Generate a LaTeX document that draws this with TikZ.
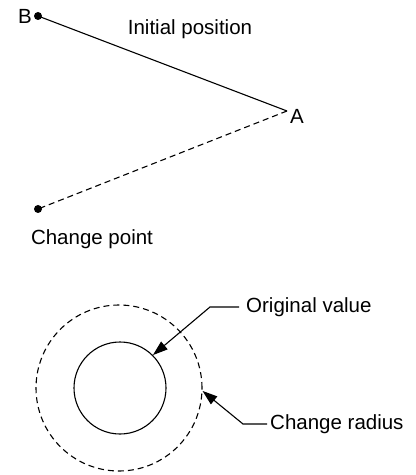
\documentclass[tikz,border=0pt]{standalone}
\usepackage{fontspec}
\setmainfont{Liberation Sans}
\usetikzlibrary{arrows.meta}
\begin{document}
\begin{tikzpicture}[x=1bp,y=-1bp,
  lbl/.style={font=\fontsize{20.5bp}{24bp}\selectfont, inner sep=0pt},
  dotpt/.style={circle, fill=black, inner sep=0pt, minimum size=8bp},
  ln/.style={line width=1.1bp},
  dsh/.style={line width=1.1bp, dash pattern=on 6bp off 4bp},
  arr/.style={line width=1.1bp, -{Triangle[length=15bp,width=10bp]}}]
\useasboundingbox (0,0) rectangle (415,475);
% top part
\node[dotpt] (B) at (38,16) {};
\coordinate (A) at (287,111);
\node[dotpt] (C) at (38,209) {};
\node[lbl, anchor=east] (Bl) at (32,16) {B};
\node[lbl, anchor=west] (Al) at (290,116) {A};
\node[lbl] (ip) at (190,29) {Initial position};
\node[lbl] (cp) at (92,239) {Change point};
\draw[ln] (B.center) -- (A);
\draw[dsh] (A) -- (C.center);
% circles
\node[circle, draw, dsh, minimum size=166bp, inner sep=0pt] (outer) at (119,388) {};
\node[circle, draw, ln, minimum size=92bp, inner sep=0pt] (inner) at (120,388) {};
\node[lbl, anchor=west] (ov) at (246,307) {Original value};
\node[lbl, anchor=west] (cr) at (270,424) {Change radius};
\coordinate (ovk) at (210,307);
\coordinate (crk) at (243,424);
\draw[arr] ([xshift=-7bp]ov.west) -- (ovk) -- (inner.45);
\draw[arr] ([xshift=-3bp]cr.west) -- (crk) -- (outer.-2);
\end{tikzpicture}
\end{document}
